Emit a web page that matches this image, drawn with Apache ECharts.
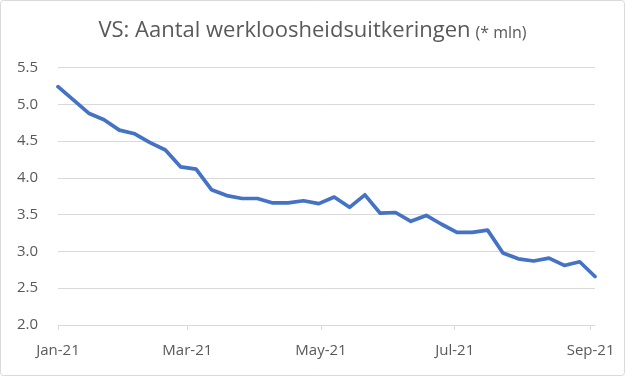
<!DOCTYPE html>
<html>
<head>
<meta charset="utf-8">
<script src="https://cdn.jsdelivr.net/npm/echarts@6/dist/echarts.min.js"></script>
<style>
html,body{margin:0;padding:0;background:#fff;}
#c{width:625px;height:376px;}
</style>
</head>
<body>
<div id="c"></div>
<script>
const titleMain = 'VS: Aantal werkloosheidsuitkeringen';
const titleUnit = '(* mln)';
const dates = [
  '2021-01-01','2021-01-08','2021-01-15','2021-01-22','2021-01-29',
  '2021-02-05','2021-02-12','2021-02-19','2021-02-26',
  '2021-03-05','2021-03-12','2021-03-19','2021-03-26',
  '2021-04-02','2021-04-09','2021-04-16','2021-04-23','2021-04-30',
  '2021-05-07','2021-05-14','2021-05-21','2021-05-28',
  '2021-06-04','2021-06-11','2021-06-18','2021-06-25',
  '2021-07-02','2021-07-09','2021-07-16','2021-07-23','2021-07-30',
  '2021-08-06','2021-08-13','2021-08-20','2021-08-27',
  '2021-09-03'
];
const claims = [
  5.24, 5.06, 4.88, 4.79, 4.65,
  4.60, 4.48, 4.38, 4.15,
  4.12, 3.84, 3.76, 3.72,
  3.72, 3.66, 3.66, 3.69, 3.65,
  3.74, 3.60, 3.77, 3.52,
  3.53, 3.41, 3.49, 3.37,
  3.26, 3.26, 3.29, 2.98, 2.90,
  2.87, 2.91, 2.81, 2.86,
  2.66
];
const tickDates = ['2021-01-01','2021-03-01','2021-05-01','2021-07-01','2021-09-01'];
const tickLabels = ['Jan-21','Mar-21','May-21','Jul-21','Sep-21'];
const yMin = 2.0, yMax = 5.5, yStep = 0.5;

// day number since the first date (UTC, to avoid DST shifts)
function dayNum(s){ const p = s.split('-').map(Number); return Math.round((Date.UTC(p[0], p[1]-1, p[2]) - Date.UTC(2021,0,1)) / 86400000); }
const tickDays = tickDates.map(dayNum);
const labelMap = {};
tickDays.forEach((t,i)=>{ labelMap[t] = tickLabels[i]; });

const chart = echarts.init(document.getElementById('c'), null, {renderer:'canvas'});
chart.setOption({
  animation:false,
  backgroundColor:'#fff',
  title:{
    text:'{a|' + titleMain + '} {b|' + titleUnit + '}',
    left:'center',
    top:15,
    textStyle:{
      fontWeight:'normal',
      rich:{
        a:{fontFamily:'Open Sans', fontSize:22, fontWeight:'normal', color:'#595959'},
        b:{fontFamily:'Open Sans', fontSize:16, fontWeight:'normal', color:'#595959', padding:[4,0,0,0]}
      }
    }
  },
  graphic:[{
    type:'rect', shape:{x:0.5,y:0.5,width:624,height:375, r:3},
    style:{fill:'none', stroke:'#d9d9d9', lineWidth:1}, silent:true
  }],
  grid:{left:58, right:30, top:67.6, bottom:51, containLabel:false},
  xAxis:{
    type:'value',
    min:dayNum(dates[0]),
    max:dayNum(dates[dates.length-1]),
    axisLine:{show:true, lineStyle:{color:'#d9d9d9', width:1}},
    axisTick:{show:true, length:5, lineStyle:{color:'#d9d9d9'}, customValues:tickDays},
    splitLine:{show:false},
    axisLabel:{
      customValues:tickDays,
      formatter:function(v){ return labelMap[v] !== undefined ? labelMap[v] : ''; },
      fontFamily:'Open Sans', fontSize:15, color:'#595959', margin:18
    }
  },
  yAxis:{
    type:'value',
    min:yMin, max:yMax, interval:yStep,
    axisLine:{show:false},
    axisTick:{show:false},
    splitLine:{lineStyle:{color:'#d9d9d9', width:1}},
    axisLabel:{
      formatter:function(v){ return v.toFixed(1); },
      fontFamily:'Open Sans', fontSize:15, color:'#595959', margin:20
    }
  },
  series:[{
    type:'line',
    data:dates.map((d,i)=>[dayNum(d), claims[i]]),
    showSymbol:false,
    lineStyle:{color:'#4472C4', width:3.7, cap:'round', join:'round'},
    itemStyle:{color:'#4472C4'}
  }]
});
</script>
</body>
</html>
